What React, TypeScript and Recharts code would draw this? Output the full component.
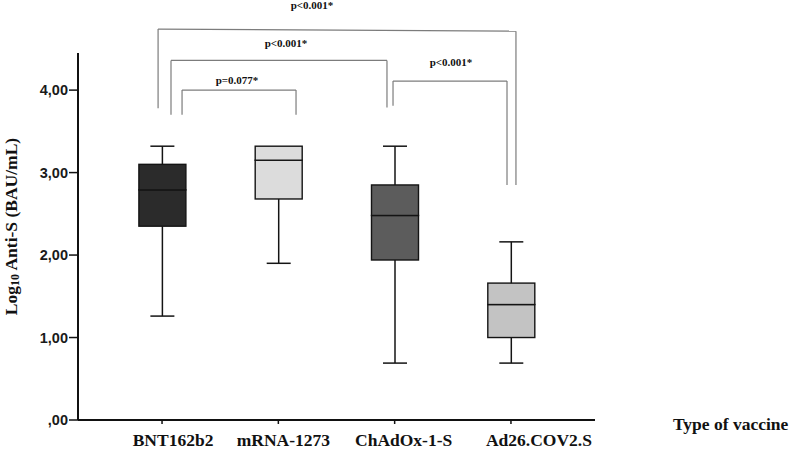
import { ComposedChart, Bar, XAxis, YAxis, ReferenceLine } from "recharts";

const vaccines = ["BNT162b2", "mRNA-1273", "ChAdOx-1-S", "Ad26.COV2.S"];
const positions = [1, 2, 3, 4];
const mins = [1.26, 1.9, 0.69, 0.69];
const q1s = [2.35, 2.68, 1.94, 1.0];
const medians = [2.79, 3.15, 2.48, 1.4];
const q3s = [3.1, 3.32, 2.85, 1.66];
const maxs = [3.32, 3.32, 3.32, 2.16];
const colors = ["#2b2b2b", "#dcdcdc", "#5c5c5c", "#c3c3c3"];
const yTicks = [0, 1, 2, 3, 4];
const yTickLabels = [",00", "1,00", "2,00", "3,00", "4,00"];

// the category labels in the original sit a bit right of their ticks
const labelShift = [11, 5, 9, 28];

// significance brackets (x in group units, y in log10 units)
const brackets = [
  { label: "p<0.001*", x1: 0.966, x2: 4.043, top1: 4.74, top2: 4.715, end1: 3.78, end2: 2.85, dx: -25, off: 20 },
  { label: "p<0.001*", x1: 1.077, x2: 2.934, top1: 4.36, top2: 4.36, end1: 3.7, end2: 3.79, dx: 7, off: 13 },
  { label: "p=0.077*", x1: 1.172, x2: 2.152, top1: 4.0, top2: 4.0, end1: 3.7, end2: 3.7, dx: -2, off: 6 },
  { label: "p<0.001*", x1: 2.986, x2: 3.966, top1: 4.11, top2: 4.11, end1: 3.81, end2: 2.85, dx: 1, off: 15 },
];

const data = positions.map((x, i) => ({
  x,
  base: mins[i],
  lowW: q1s[i] - mins[i],
  lowBox: medians[i] - q1s[i],
  highBox: q3s[i] - medians[i],
  highW: maxs[i] - q3s[i],
  color: colors[i],
}));

const serif = "'Liberation Serif', 'Times New Roman', serif";
const sans = "'Liberation Sans', Arial, sans-serif";
const BRACKET = "#7c7c7c";

function BoxShape(props: any) {
  const { x, y, width, height, payload } = props;
  return <rect x={x} y={y} width={width} height={height} fill={payload.color} stroke="#141414" strokeWidth={1.4} />;
}

function whisker(capAtTop: boolean) {
  return (props: any) => {
    const { x, y, width, height } = props;
    if (!height || height <= 0) return <g />;
    const cx = x + width / 2;
    const cy = capAtTop ? y : y + height;
    return (
      <g stroke="#141414" strokeWidth={1.5}>
        <line x1={cx} y1={y} x2={cx} y2={y + height} />
        <line x1={cx - 12} y1={cy} x2={cx + 12} y2={cy} />
      </g>
    );
  };
}

function VaccineTick(props: any) {
  const { x, y, payload } = props;
  const i = positions.indexOf(payload.value);
  return (
    <text x={x + (labelShift[i] ?? 0)} y={y + 10} textAnchor="middle" fontSize={17.5} fontWeight="bold" fontFamily={serif} fill="#111">
      {vaccines[i]}
    </text>
  );
}

export default function App() {
  return (
    <div style={{ width: 790, height: 449 }}>
      <style>{`body{margin:0}`}</style>
      <ComposedChart width={790} height={449} data={data} margin={{ top: 53, right: 195, bottom: 0, left: 0 }}>
        <XAxis
          dataKey="x"
          type="number"
          domain={[0.2774, 4.7226]}
          ticks={positions}
          interval={0}
          height={29}
          tickSize={4}
          tickMargin={12}
          axisLine={{ stroke: "#111", strokeWidth: 2 }}
          tickLine={{ stroke: "#111", strokeWidth: 1.5 }}
          tick={<VaccineTick />}
          label={{
            content: ({ viewBox }: any) => (
              <text x={viewBox.x + viewBox.width + 78} y={viewBox.y + 10} fontSize={17.5} fontWeight="bold" fontFamily={serif} fill="#111">
                Type of vaccine
              </text>
            ),
          }}
        />
        <YAxis
          type="number"
          domain={[0, 4.45]}
          ticks={yTicks}
          width={78}
          tickSize={9}
          tickMargin={1}
          tickFormatter={(v) => yTickLabels[yTicks.indexOf(v)] ?? ""}
          axisLine={{ stroke: "#111", strokeWidth: 2 }}
          tickLine={{ stroke: "#111", strokeWidth: 1.5 }}
          tick={{ fontSize: 14.5, fontWeight: "bold", fontFamily: sans, fill: "#1a1a1a" }}
          label={{
            content: ({ viewBox }: any) => {
              const cx = viewBox.x + 11;
              const cy = viewBox.y + viewBox.height / 2 - 10;
              return (
                <text x={cx} y={cy} transform={`rotate(-90, ${cx}, ${cy})`} textAnchor="middle" dominantBaseline="central" fontSize={17.5} fontWeight="bold" fontFamily={serif} fill="#111">
                  Log<tspan fontSize={12} dy={4}>10</tspan><tspan dy={-4}> Anti-S (BAU/mL)</tspan>
                </text>
              );
            },
          }}
        />
        <Bar dataKey="base" stackId="box" barSize={47} shape={() => <g />} isAnimationActive={false} />
        <Bar dataKey="lowW" stackId="box" barSize={47} shape={whisker(false)} isAnimationActive={false} />
        <Bar dataKey="lowBox" stackId="box" barSize={47} shape={BoxShape} isAnimationActive={false} />
        <Bar dataKey="highBox" stackId="box" barSize={47} shape={BoxShape} isAnimationActive={false} />
        <Bar dataKey="highW" stackId="box" barSize={47} shape={whisker(true)} isAnimationActive={false} />
        {brackets.map((b, i) => (
          <ReferenceLine
            key={`h${i}`}
            segment={[{ x: b.x1, y: b.top1 }, { x: b.x2, y: b.top2 }]}
            stroke={BRACKET}
            strokeWidth={1.2}
            ifOverflow="visible"
            label={{ value: b.label, position: "top", offset: b.off, dx: b.dx, fontSize: 11, fontWeight: "bold", fontFamily: serif, fill: "#111" }}
          />
        ))}
        {brackets.map((b, i) => (
          <ReferenceLine key={`l${i}`} segment={[{ x: b.x1, y: b.top1 }, { x: b.x1, y: b.end1 }]} stroke={BRACKET} strokeWidth={1.2} ifOverflow="visible" />
        ))}
        {brackets.map((b, i) => (
          <ReferenceLine key={`r${i}`} segment={[{ x: b.x2, y: b.top2 }, { x: b.x2, y: b.end2 }]} stroke={BRACKET} strokeWidth={1.2} ifOverflow="visible" />
        ))}
      </ComposedChart>
    </div>
  );
}
